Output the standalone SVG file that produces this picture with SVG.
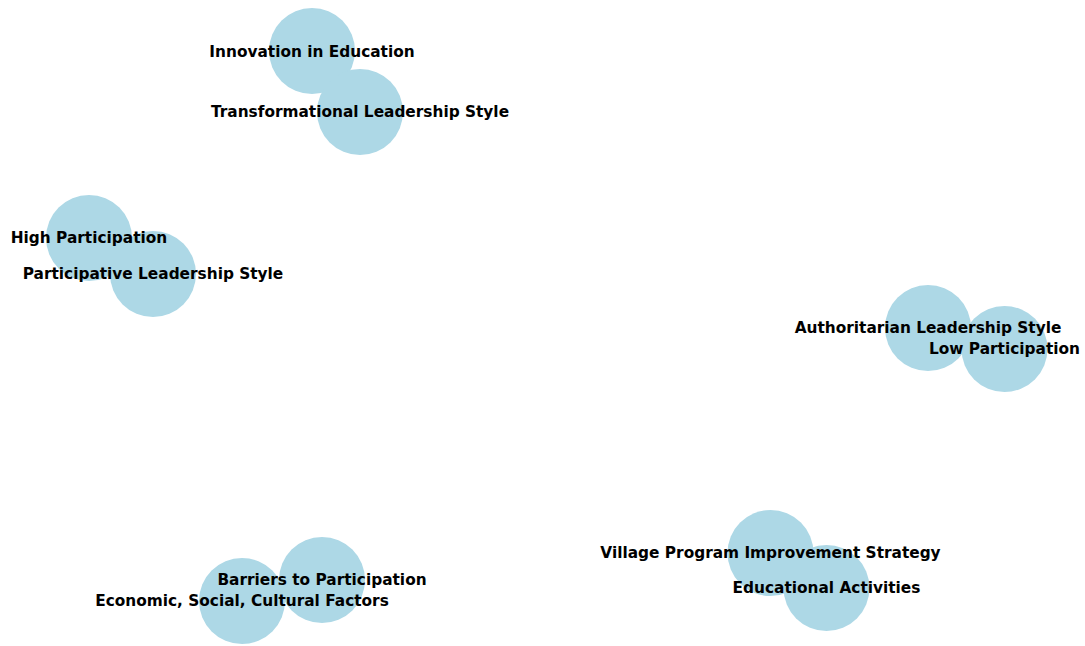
<svg xmlns="http://www.w3.org/2000/svg" width="1085" height="646" viewBox="0 0 1085 646">
  <style>
    .node circle { fill: #add8e6; stroke: none; }
    .label { font-family: "DejaVu Sans", sans-serif; font-weight: bold; font-size: 15.35px; fill: #000; text-anchor: middle; dominant-baseline: central; }
  </style>
  <rect width="1085" height="646" fill="#ffffff"/>
  <!-- edges sit beneath the node discs -->
  <g id="edges" stroke="#000" stroke-width="1"></g>
  <g id="node-circles" class="node">
    <circle cx="312" cy="51" r="43"/>
    <circle cx="360" cy="112" r="43"/>
    <circle cx="89" cy="238" r="43"/>
    <circle cx="153" cy="274" r="43"/>
    <circle cx="928" cy="328" r="43"/>
    <circle cx="1004.5" cy="349" r="43"/>
    <circle cx="322" cy="580" r="43"/>
    <circle cx="242" cy="601" r="43"/>
    <circle cx="770.5" cy="553" r="43"/>
    <circle cx="826.5" cy="588" r="43"/>
  </g>
  <g id="innovation"><text class="label" x="312" y="52">Innovation in Education</text></g>
  <g id="transformational"><text class="label" x="360" y="112">Transformational Leadership Style</text></g>
  <g id="high-participation"><text class="label" x="89" y="238">High Participation</text></g>
  <g id="participative"><text class="label" x="153" y="274">Participative Leadership Style</text></g>
  <g id="authoritarian"><text class="label" x="928" y="328">Authoritarian Leadership Style</text></g>
  <g id="low-participation"><text class="label" x="1004.5" y="349">Low Participation</text></g>
  <g id="barriers"><text class="label" x="322" y="580">Barriers to Participation</text></g>
  <g id="factors"><text class="label" x="242" y="601">Economic, Social, Cultural Factors</text></g>
  <g id="village"><text class="label" x="770.5" y="553">Village Program Improvement Strategy</text></g>
  <g id="educational"><text class="label" x="826.5" y="588">Educational Activities</text></g>
</svg>
